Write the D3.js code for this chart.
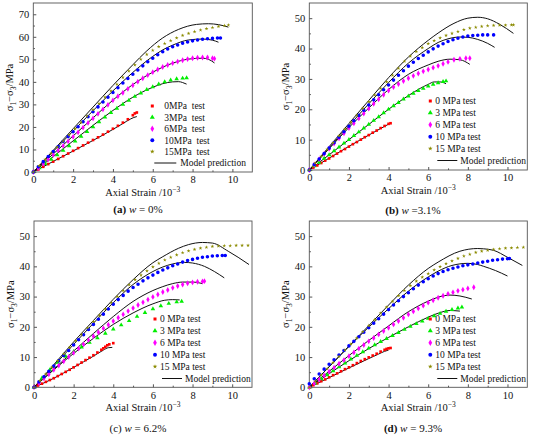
<!DOCTYPE html>
<html>
<head>
<meta charset="utf-8">
<script src="https://cdn.jsdelivr.net/npm/d3@7"></script>
<style>
  body { margin: 0; background: #fff; }
  svg { display: block; }
</style>
</head>
<body>
<svg id="chart" width="550" height="437" font-family="Liberation Serif, Times New Roman, serif"></svg>
<script>
// ---- data: [axial strain (1e-3), deviatoric stress (MPa)] ----

const xTicks = [0, 2, 4, 6, 8, 10];
const xMinor = [1, 3, 5, 7, 9];
const yTicksA = [0, 10, 20, 30, 40, 50, 60, 70];
const yTicksB = [0, 10, 20, 30, 40, 50];
const pressures = [0, 3, 6, 10, 15];
const legendA = ["0MPa\u00a0 test", "3MPa\u00a0 test", "6MPa\u00a0 test", "10MPa\u00a0 test", "15MPa\u00a0 test", "Model prediction"];
const legendB = ["0 MPa test", "3 MPa test", "6 MPa test", "10 MPa test", "15 MPa test", "Model prediction"];
const captionLetters = ["(a)", "(b)", "(c)", "(d)"];
const captionValues = [" = 0%", " =3.1%", " = 6.2%", " = 9.3%"];

// (a) w = 0%
const testA0 = [[0,0],[0.25,1.1],[0.5,2.3],[0.75,3.5],[1,4.6],[1.25,5.8],[1.5,7],[1.75,8.2],[2,9.4],[2.25,10.6],[2.5,11.8],[2.75,13],[3,14.2],[3.25,15.4],[3.5,16.6],[3.75,17.9],[4,19.2],[4.25,20.5],[4.5,21.9],[4.75,23.4],[5,25.2],[5.1,26],[5.2,26.4]];
const testA3 = [[0,0],[0.3,1.8],[0.6,3.7],[0.9,5.6],[1.2,7.6],[1.5,9.6],[1.8,11.6],[2.1,13.7],[2.4,15.8],[2.7,17.9],[3,20],[3.3,22.2],[3.6,24.3],[3.9,26.3],[4.2,28.2],[4.5,30],[4.8,31.8],[5.1,33.5],[5.4,35],[5.7,36.5],[6,37.8],[6.3,39],[6.6,40],[6.9,40.8],[7.2,41.3],[7.5,41.6],[7.7,41.8]];
const testA6 = [[0,0],[0.25,1.8],[0.5,3.7],[0.75,5.6],[1,7.6],[1.25,9.6],[1.5,11.6],[1.75,13.6],[2,15.6],[2.25,17.6],[2.5,19.7],[2.75,21.8],[3,23.8],[3.25,25.8],[3.5,27.8],[3.75,29.8],[4,31.8],[4.25,33.6],[4.5,35.2],[4.75,36.9],[5,38.5],[5.25,40.1],[5.5,41.6],[5.75,43],[6,44.3],[6.25,45.5],[6.5,46.6],[6.75,47.5],[7,48.3],[7.25,49],[7.5,49.6],[7.75,50.1],[8,50.5],[8.25,50.7],[8.5,50.8],[8.75,50.8],[9,50.5],[9.1,50.3]];
const testA10 = [[0,0],[0.25,2.3],[0.5,4.6],[0.75,6.9],[1,9.1],[1.25,11.3],[1.5,13.5],[1.75,15.7],[2,17.9],[2.25,20.1],[2.5,22.3],[2.75,24.5],[3,26.7],[3.25,28.9],[3.5,31.1],[3.75,33.2],[4,35.3],[4.25,37.4],[4.5,39.5],[4.75,41.5],[5,43.4],[5.25,45.3],[5.5,47.1],[5.75,48.9],[6,50.5],[6.25,52],[6.5,53.4],[6.75,54.6],[7,55.6],[7.25,56.4],[7.5,57.1],[7.75,57.7],[8,58.2],[8.25,58.6],[8.5,58.9],[8.75,59.1],[9,59.3],[9.25,59.5],[9.4,59.5]];
const testA15 = [[0,0],[0.3,2.8],[0.6,5.6],[0.9,8.3],[1.2,11],[1.5,13.7],[1.8,16.4],[2.1,19.2],[2.4,22],[2.7,24.8],[3,27.6],[3.3,30.4],[3.6,33.2],[3.9,36],[4.2,38.9],[4.5,42],[4.8,44.8],[5.1,47.5],[5.4,50],[5.7,52.2],[6,54],[6.3,55.6],[6.6,57],[6.9,58.3],[7.2,59.5],[7.5,60.6],[7.8,61.5],[8.1,62.3],[8.4,63],[8.7,63.6],[9,64.1],[9.3,64.6],[9.6,65],[9.8,65.2]];
const modelA0 = [[0,0],[1,4.7],[2,9.3],[3,14],[4,18.9],[4.5,21.5],[4.9,23.6],[5.05,24.2],[5.2,24.6]];
const modelA3 = [[0,0],[1,6.8],[2,13.8],[3,20.7],[4,27.3],[5,33.2],[6,37.6],[6.5,39.2],[7,40],[7.3,40.1],[7.5,39.7],[7.7,39]];
const modelA6 = [[0,0],[1,8],[2,16],[3,24],[4,31.9],[5,38.8],[6,44.3],[7,48.3],[7.8,50.1],[8.5,50.5],[8.8,50],[9.1,48.4]];
const modelA10 = [[0,0],[1,9.1],[2,18.2],[3,27.2],[4,36],[5,44.2],[6,51.3],[6.5,54.2],[7,56.3],[7.8,58.6],[8.5,59],[9,58.5],[9.3,57.6]];
const modelA15 = [[0,0],[1,9.6],[2,19.2],[3,28.8],[4,38.4],[5,47.6],[5.67,53.5],[6.5,59.5],[7.3,63.3],[8.2,65.5],[8.8,65.8],[9.3,65.4],[9.8,64.3]];

// (b) w = 3.1%
const testB0 = [[0,0],[0.2,0.8],[0.4,1.5],[0.6,2.3],[0.8,3.1],[1,3.8],[1.2,4.6],[1.4,5.4],[1.6,6.2],[1.8,6.9],[2,7.7],[2.2,8.5],[2.4,9.2],[2.6,10],[2.8,10.8],[3,11.5],[3.2,12.3],[3.4,13],[3.6,13.8],[3.8,14.5],[4,15.2],[4.1,15.4]];
const testB3 = [[0,0],[0.25,1.3],[0.5,2.5],[0.75,3.8],[1,5],[1.25,6.3],[1.5,7.5],[1.75,8.8],[2,10],[2.25,11.3],[2.5,12.5],[2.75,13.8],[3,15],[3.25,16.3],[3.5,17.5],[3.75,18.8],[4,20],[4.25,21.1],[4.5,22.2],[4.75,23.3],[5,24.3],[5.25,25.2],[5.5,26.1],[5.75,26.9],[6,27.6],[6.25,28.2],[6.5,28.7],[6.75,29.1],[6.9,29.3]];
const testB6 = [[0,0],[0.25,1.8],[0.5,3.6],[0.75,5.3],[1,7],[1.25,8.7],[1.5,10.4],[1.75,12.1],[2,13.8],[2.25,15.4],[2.5,17],[2.75,18.6],[3,20.2],[3.25,21.8],[3.5,23.3],[3.75,24.8],[4,26.2],[4.25,27.3],[4.5,28.3],[4.75,29.3],[5,30.2],[5.25,31],[5.5,31.8],[5.75,32.5],[6,33.1],[6.25,33.7],[6.5,34.3],[6.75,35],[7,35.6],[7.3,36.3],[7.6,36.6],[7.9,36.8],[8.1,36.8]];
const testB10 = [[0,0],[0.25,1.8],[0.5,3.6],[0.75,5.4],[1,7.2],[1.25,9],[1.5,10.8],[1.75,12.6],[2,14.4],[2.25,16.2],[2.5,18],[2.75,19.7],[3,21.4],[3.25,23.1],[3.5,24.8],[3.75,26.4],[4,28],[4.25,29.6],[4.5,31.2],[4.75,32.7],[5,34.2],[5.25,35.5],[5.5,36.7],[5.75,37.8],[6,38.9],[6.25,39.9],[6.5,40.8],[6.75,41.6],[7,42.3],[7.25,42.9],[7.5,43.4],[7.75,43.8],[8,44.1],[8.25,44.3],[8.5,44.4],[8.75,44.5],[9,44.5],[9.3,44.5]];
const testB15 = [[0,0],[0.3,2.3],[0.6,4.5],[0.9,6.8],[1.2,9],[1.5,11.3],[1.8,13.5],[2.1,15.8],[2.4,18],[2.7,20.3],[3,22.5],[3.3,24.7],[3.6,26.9],[3.9,29],[4.2,31.2],[4.5,33.5],[4.8,35.8],[5.1,37.5],[5.4,39],[5.7,40.3],[6,41.6],[6.3,42.6],[6.6,43.5],[6.9,44.3],[7.2,45],[7.5,45.6],[7.8,46.2],[8.1,46.7],[8.4,47],[8.7,47.3],[9,47.5],[9.3,47.6],[9.6,47.7],[9.9,47.7],[10.2,47.8],[10.3,47.8]];
const modelB0 = [[0,0],[1,3.9],[2,7.8],[3,11.5],[4,15.1]];
const modelB3 = [[0,0],[1,5],[2,10],[3,15],[4,20],[5,24.5],[5.6,26.9],[6,28.2],[6.3,29],[6.6,29],[6.9,28.4]];
const modelB6 = [[0,0],[1,7],[2,14],[3,20.4],[4,26.5],[5,31.5],[6,34.6],[6.5,35.8],[7.1,36.5],[7.6,36.3],[8.1,34.8]];
const modelB10 = [[0,0],[1,7.3],[2,14.6],[3,21.8],[4,28.8],[5,35.2],[6,40],[6.5,42],[7,43.2],[7.6,43.8],[8,43.7],[8.5,43],[9,41.7],[9.35,40.4]];
const modelB15 = [[0,0],[1,7.7],[2,15.3],[3,22.9],[4,30.4],[5,37.2],[6,42.7],[6.5,45.1],[7.3,48.3],[8,50],[8.5,50.3],[9,49.8],[9.6,48],[10.3,45]];

// (c) w = 6.2%
const testC0 = [[0,0],[0.2,0.6],[0.4,1.2],[0.6,1.8],[0.8,2.4],[1,3],[1.2,3.7],[1.4,4.4],[1.6,5.1],[1.8,5.8],[2,6.6],[2.2,7.4],[2.4,8.2],[2.6,9],[2.8,9.8],[3,10.6],[3.2,11.5],[3.4,12.4],[3.5,12.9],[3.6,13.4],[3.7,13.9],[3.8,14.2],[4,14.6]];
const testC3 = [[0,0],[0.4,3],[0.8,5.8],[1.2,8.2],[1.6,10.2],[2,11.8],[2.4,13.3],[2.8,14.8],[3.2,16.3],[3.6,17.8],[4,19.2],[4.4,20.6],[4.8,22],[5.2,23.4],[5.6,24.7],[6,25.9],[6.4,26.9],[6.8,27.7],[7.2,28.2],[7.45,28.4]];
const testC6 = [[0,0],[0.25,1.4],[0.5,2.9],[0.75,4.3],[1,5.8],[1.25,7.2],[1.5,8.6],[1.75,10],[2,11.4],[2.25,12.8],[2.5,14.2],[2.75,15.6],[3,16.9],[3.25,18.2],[3.5,19.5],[3.75,20.7],[4,21.9],[4.25,23],[4.5,24.1],[4.75,25.2],[5,26.2],[5.25,27.2],[5.5,28.1],[5.75,29],[6,29.9],[6.25,30.7],[6.5,31.5],[6.75,32.2],[7,32.9],[7.25,33.5],[7.5,34],[7.75,34.4],[8,34.7],[8.25,34.9],[8.5,35],[8.6,35.1]];
const testC10 = [[0,0],[0.25,1.8],[0.5,3.5],[0.75,5.3],[1,7],[1.25,8.8],[1.5,10.5],[1.75,12.2],[2,14],[2.25,15.7],[2.5,17.4],[2.75,19.1],[3,20.8],[3.25,22.5],[3.5,24.2],[3.75,25.9],[4,27.5],[4.25,29],[4.5,30.4],[4.75,31.8],[5,33],[5.25,34.1],[5.5,35.2],[5.75,36.2],[6,37.1],[6.25,38],[6.5,38.8],[6.75,39.5],[7,40.2],[7.25,40.8],[7.5,41.4],[7.75,41.9],[8,42.3],[8.25,42.7],[8.5,43],[8.75,43.2],[9,43.4],[9.25,43.5],[9.5,43.6],[9.65,43.6]];
const testC15 = [[0,0],[0.3,2.2],[0.6,4.4],[0.9,6.6],[1.2,8.8],[1.5,11],[1.8,13.2],[2.1,15.4],[2.4,17.5],[2.7,19.6],[3,21.7],[3.3,23.8],[3.6,25.9],[3.9,28],[4.2,30],[4.5,32],[4.8,33.9],[5.1,35.6],[5.4,37.1],[5.7,38.5],[6,39.8],[6.3,41],[6.6,42.1],[6.9,43],[7.2,43.8],[7.5,44.5],[7.8,45.1],[8.1,45.6],[8.4,46],[8.7,46.3],[9,46.6],[9.3,46.7],[9.6,46.8],[9.9,46.8],[10.2,46.9],[10.5,46.9],[10.8,46.9]];
const modelC0 = [[0,0],[1,3],[2,6.6],[3,10.3],[3.5,12.3],[3.75,13.1],[3.95,13.2]];
const modelC3 = [[0,0],[1,5.8],[2,11.2],[3,16.2],[4,20.8],[5,24.6],[6,27.6],[6.6,28.8],[7,29],[7.35,28.9]];
const modelC6 = [[0,0],[1,6],[2,12],[3,17.8],[4,23.4],[5,28.4],[6,32],[6.5,33.3],[7,34.3],[7.5,34.8],[8,34.8],[8.5,34.3]];
const modelC10 = [[0,0],[1,7.1],[2,14.2],[3,21.2],[4,28],[5,34],[6,38.3],[6.5,39.8],[7,40.8],[7.6,41.3],[8,41.1],[8.6,40],[9.1,38.3],[9.6,36.2]];
const modelC15 = [[0,0],[1,7.5],[2,15],[3,22.1],[4,29.1],[5,35.6],[6,41.2],[6.5,43.2],[7.3,46],[7.8,47.2],[8.5,47.9],[9,47.7],[9.8,45],[10.3,43],[10.85,40.6]];

// (d) w = 9.3%
const testD0 = [[0,0],[0.2,0.7],[0.4,1.3],[0.6,2],[0.8,2.6],[1,3.3],[1.2,4],[1.4,4.6],[1.6,5.3],[1.8,6],[2,6.6],[2.2,7.3],[2.4,8],[2.6,8.7],[2.8,9.3],[3,9.9],[3.2,10.5],[3.4,11.1],[3.6,11.8],[3.8,12.4],[3.9,12.7],[4,12.9],[4.1,13]];
const testD3 = [[0,0],[0.3,1.4],[0.6,2.8],[0.9,4.1],[1.2,5.4],[1.5,6.7],[1.8,8],[2.1,9.3],[2.4,10.5],[2.7,11.7],[3,12.9],[3.3,14],[3.6,15.1],[3.9,16.1],[4.2,17.1],[4.5,18.1],[4.8,19.1],[5.1,20.1],[5.4,21],[5.7,21.9],[6,22.8],[6.3,23.6],[6.6,24.4],[6.9,25.1],[7.2,25.7],[7.5,26.2],[7.7,26.5]];
const testD6 = [[0,0],[0.25,1.3],[0.5,2.6],[0.75,3.9],[1,5.2],[1.25,6.5],[1.5,7.8],[1.75,9],[2,10.3],[2.25,11.5],[2.5,12.8],[2.75,14],[3,15.2],[3.25,16.3],[3.5,17.5],[3.75,18.6],[4,19.7],[4.25,20.8],[4.5,21.9],[4.75,23],[5,24.1],[5.25,25.1],[5.5,26.1],[5.75,27],[6,28],[6.25,28.8],[6.5,29.6],[6.75,30.3],[7,30.9],[7.25,31.4],[7.5,31.9],[7.75,32.3],[8,32.7],[8.3,33.1]];
const testD10 = [[0,1.2],[0.25,2.8],[0.5,4.4],[0.75,6],[1,7.6],[1.25,9.1],[1.5,10.7],[1.75,12.2],[2,13.7],[2.25,15.2],[2.5,16.7],[2.75,18.2],[3,19.7],[3.25,21.2],[3.5,22.7],[3.75,24.2],[4,25.7],[4.25,27.2],[4.5,28.6],[4.75,30],[5,31.3],[5.25,32.6],[5.5,33.8],[5.75,34.9],[6,35.9],[6.25,36.8],[6.5,37.6],[6.75,38.3],[7,38.9],[7.25,39.4],[7.5,39.8],[7.75,40.2],[8,40.5],[8.25,40.8],[8.5,41.1],[8.75,41.4],[9,41.7],[9.25,42],[9.5,42.2],[9.75,42.4],[10,42.5],[10.1,42.6]];
const testD15 = [[0,0],[0.3,2],[0.6,4.1],[0.9,6.1],[1.2,8.2],[1.5,10.2],[1.8,12.3],[2.1,14.3],[2.4,16.3],[2.7,18.4],[3,20.4],[3.3,22.4],[3.6,24.5],[3.9,26.5],[4.2,28.4],[4.5,30.3],[4.8,32],[5.1,33.6],[5.4,35.1],[5.7,36.4],[6,37.6],[6.3,38.8],[6.6,39.9],[6.9,40.9],[7.2,41.8],[7.5,42.6],[7.8,43.4],[8.1,44],[8.4,44.6],[8.7,45],[9,45.3],[9.3,45.6],[9.6,45.8],[9.9,46],[10.2,46.1],[10.5,46.2],[10.8,46.3]];
const modelD0 = [[0,0],[1,3.2],[2,6.4],[3,9.5],[3.5,11],[3.8,11.9],[4,12.3]];
const modelD3 = [[0,0],[1,4.5],[2,8.8],[3,12.8],[4,16.5],[5,20],[6,23.2],[6.5,24.5],[7.1,25.4],[7.6,25.2]];
const modelD6 = [[0,0],[1,5.3],[2,10.5],[3,15.5],[4,20.3],[5,25],[6,28.5],[6.5,29.8],[7.1,30.5],[7.6,30.2],[8.2,29.2]];
const modelD10 = [[0,0],[1,6.8],[2,13.5],[3,19.9],[4,26],[5,31.8],[6,36.5],[6.5,38.4],[7.2,40.3],[8,41],[8.5,40.6],[8.8,40],[9.4,38.6],[10,36.8]];
const modelD15 = [[0,0],[1,6.8],[2,13.6],[3,20.4],[4,27.2],[5,33.8],[6,39.3],[6.5,41.4],[7.6,45],[8.5,45.9],[8.8,45.8],[9.3,45.3],[10,43],[10.75,40.3]];

// ---- layout / styling ----
const FONT = "Liberation Serif, Times New Roman, serif";
const styles = [
  { color: "#ff0000", symbol: d3.symbolSquare,   size: 7 },
  { color: "#00ee00", symbol: d3.symbolTriangle, size: 9 },
  { color: "#ff00ff", symbol: d3.symbolDiamond,  size: 10 },
  { color: "#0000ff", symbol: d3.symbolCircle,   size: 10 },
  { color: "#8b8b00", symbol: d3.symbolStar,     size: 4.5 }
];

const panels = [
  { left: 33.3,  top: 3,   w: 219, h: 169,   yMax: 75, yTicks: yTicksA, legend: legendA,
    tests: [testA0, testA3, testA6, testA10, testA15], models: [modelA0, modelA3, modelA6, modelA10, modelA15],
    leg: { mx: 119, tx: 131, lx1: 121, lx2: 143, ltx: 147, y0: 103, dy: 11.4 }, capX: 138, capY: 213 },
  { left: 309.3, top: 3,   w: 218, h: 167,   yMax: 55, yTicks: yTicksB, legend: legendB,
    tests: [testB0, testB3, testB6, testB10, testB15], models: [modelB0, modelB3, modelB6, modelB10, modelB15],
    leg: { mx: 121, tx: 126, lx1: 128, lx2: 148, ltx: 151, y0: 98, dy: 11.9 }, capX: 413, capY: 213.5 },
  { left: 34,    top: 221, w: 218, h: 166.3, yMax: 55, yTicks: yTicksB, legend: legendB,
    tests: [testC0, testC3, testC6, testC10, testC15], models: [modelC0, modelC3, modelC6, modelC10, modelC15],
    leg: { mx: 121, tx: 126, lx1: 128, lx2: 148, ltx: 151, y0: 98, dy: 11.9 }, capX: 138, capY: 431.5 },
  { left: 309.3, top: 221, w: 218, h: 166.3, yMax: 55, yTicks: yTicksB, legend: legendB,
    tests: [testD0, testD3, testD6, testD10, testD15], models: [modelD0, modelD3, modelD6, modelD10, modelD15],
    leg: { mx: 121, tx: 126, lx1: 128, lx2: 148, ltx: 151, y0: 98, dy: 11.9 }, capX: 413, capY: 431.5 }
];

const svg = d3.select("#chart");

panels.forEach((p, i) => {
  const g = svg.append("g").attr("transform", `translate(${p.left},${p.top})`);
  const x = d3.scaleLinear().domain([0, 11]).range([0, p.w]);
  const y = d3.scaleLinear().domain([0, p.yMax]).range([p.h, 0]);

  // frame
  g.append("rect").attr("width", p.w).attr("height", p.h)
    .attr("fill", "none").attr("stroke", "#555").attr("stroke-width", 0.9);

  // axes with inward ticks
  const xAxis = g.append("g").attr("transform", `translate(0,${p.h})`)
    .call(d3.axisBottom(x).tickValues(xTicks).tickSize(-3).tickPadding(4));
  g.append("g").attr("transform", `translate(0,${p.h})`)
    .call(d3.axisBottom(x).tickValues(xMinor).tickSize(-1.6).tickFormat(""));
  const yAxis = g.append("g")
    .call(d3.axisLeft(y).tickValues(p.yTicks).tickSize(-3).tickPadding(4));
  g.append("g")
    .call(d3.axisLeft(y).tickValues(p.yTicks.slice(0, -1).map(v => v + 5)).tickSize(-1.6).tickFormat(""));
  g.selectAll(".domain").remove();
  g.selectAll(".tick line").attr("stroke", "#555");
  [xAxis, yAxis].forEach(a => {
    a.attr("font-family", FONT).attr("font-size", 10.5);
    a.selectAll("text").attr("fill", "#111");
  });

  // model curves
  const line = d3.line().x(d => x(d[0])).y(d => y(d[1])).curve(d3.curveMonotoneX);
  p.models.forEach(m => {
    g.append("path").attr("d", line(m)).attr("fill", "none")
      .attr("stroke", "#111").attr("stroke-width", 1);
  });

  // test points
  p.tests.forEach((t, k) => {
    const s = styles[k];
    const sym = d3.symbol().type(s.symbol).size(s.size);
    g.append("g").selectAll("path").data(t).join("path")
      .attr("transform", d => `translate(${x(d[0])},${y(d[1])})`)
      .attr("d", sym).attr("fill", s.color);
  });

  // legend
  const L = p.leg;
  styles.forEach((s, k) => {
    const yy = L.y0 + k * L.dy;
    g.append("path").attr("transform", `translate(${L.mx},${yy})`)
      .attr("d", d3.symbol().type(s.symbol).size(s.size + 2)()).attr("fill", s.color);
    g.append("text").attr("x", L.tx).attr("y", yy).attr("dy", "0.35em")
      .attr("font-family", FONT).attr("font-size", 9.5).attr("fill", "#111")
      .style("white-space", "pre").text(p.legend[k]);
  });
  const ly = L.y0 + 5 * L.dy;
  g.append("line").attr("x1", L.lx1).attr("x2", L.lx2).attr("y1", ly).attr("y2", ly)
    .attr("stroke", "#111").attr("stroke-width", 1);
  g.append("text").attr("x", L.ltx).attr("y", ly).attr("dy", "0.35em")
    .attr("font-family", FONT).attr("font-size", 9.5).attr("fill", "#111").text(p.legend[5]);

  // axis titles
  const xt = g.append("text").attr("x", p.w / 2).attr("y", p.h + 24)
    .attr("text-anchor", "middle").attr("font-family", FONT).attr("font-size", 10.5).attr("fill", "#111");
  xt.append("tspan").text("Axial Strain /10");
  xt.append("tspan").attr("dy", -4).attr("font-size", 7.5).text("\u22123");

  const yt = g.append("text")
    .attr("transform", `translate(-20,${p.h / 2}) rotate(-90)`)
    .attr("text-anchor", "middle").attr("font-family", FONT).attr("font-size", 10.5).attr("fill", "#111");
  yt.append("tspan").text("\u03c3");
  yt.append("tspan").attr("dy", 2.5).attr("font-size", 7.5).text("1");
  yt.append("tspan").attr("dy", -2.5).text("\u2212\u03c3");
  yt.append("tspan").attr("dy", 2.5).attr("font-size", 7.5).text("3");
  yt.append("tspan").attr("dy", -2.5).text("/MPa");

  // caption
  const cap = svg.append("text").attr("x", p.capX).attr("y", p.capY)
    .attr("text-anchor", "middle").attr("font-family", FONT).attr("font-size", 11).attr("fill", "#111");
  cap.append("tspan").attr("font-weight", i === 2 ? "normal" : "bold").text(captionLetters[i]);
  cap.append("tspan").text(" ");
  cap.append("tspan").attr("font-style", "italic").text("w");
  cap.append("tspan").style("white-space", "pre").text(captionValues[i]);
});
</script>
</body>
</html>
